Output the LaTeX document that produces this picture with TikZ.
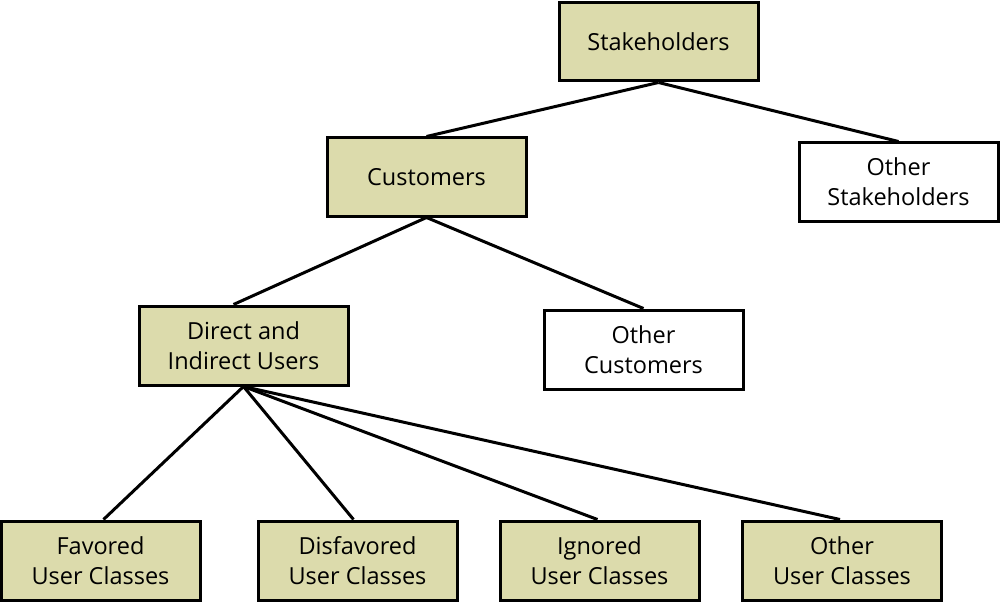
\documentclass[tikz,border=0pt]{standalone}
\usepackage{fontspec}
\setmainfont{Open Sans}
\definecolor{boxfill}{RGB}{220,219,172}
\begin{document}
\begin{tikzpicture}[x=1pt,y=-1pt,
  box/.style={draw=black,line width=3pt,minimum width=199pt,minimum height=78pt,inner sep=0pt,align=center,font=\fontsize{23.5}{30}\selectfont},
  tan/.style={box,fill=boxfill},
  plain/.style={box,fill=white},
  edge/.style={line width=3pt}]
\useasboundingbox[fill=white] (0,0) rectangle (1000,604);
\node[tan] (st) at (658.5,42) {Stakeholders};
\node[tan] (cu) at (426.5,177) {Customers};
\node[plain] (os) at (898.5,182) {Other\\Stakeholders};
\node[tan,minimum width=209pt,minimum height=79pt] (du) at (243.5,345.5) {Direct and\\Indirect Users};
\node[plain,minimum height=79pt] (oc) at (643.5,349.5) {Other\\Customers};
\node[tan,minimum height=79pt] (fa) at (100.5,560.5) {Favored\\User Classes};
\node[tan,minimum height=79pt] (di) at (357.5,560.5) {Disfavored\\User Classes};
\node[tan,minimum height=79pt] (ig) at (599.5,560.5) {Ignored\\User Classes};
\node[tan,minimum height=79pt] (ot) at (842,560.5) {Other\\User Classes};
\draw[edge] (st.south) -- (cu.north);
\draw[edge] (st.south) -- (os.north);
\draw[edge] (cu.south) -- ([xshift=-10pt]du.north);
\draw[edge] (cu.south) -- (oc.north);
\draw[edge] (du.south) -- ([xshift=3pt]fa.north);
\draw[edge] (du.south) -- ([xshift=-4pt]di.north);
\draw[edge] (du.south) -- ([xshift=-2pt]ig.north);
\draw[edge] (du.south) -- ([xshift=-2pt]ot.north);
\end{tikzpicture}
\end{document}
